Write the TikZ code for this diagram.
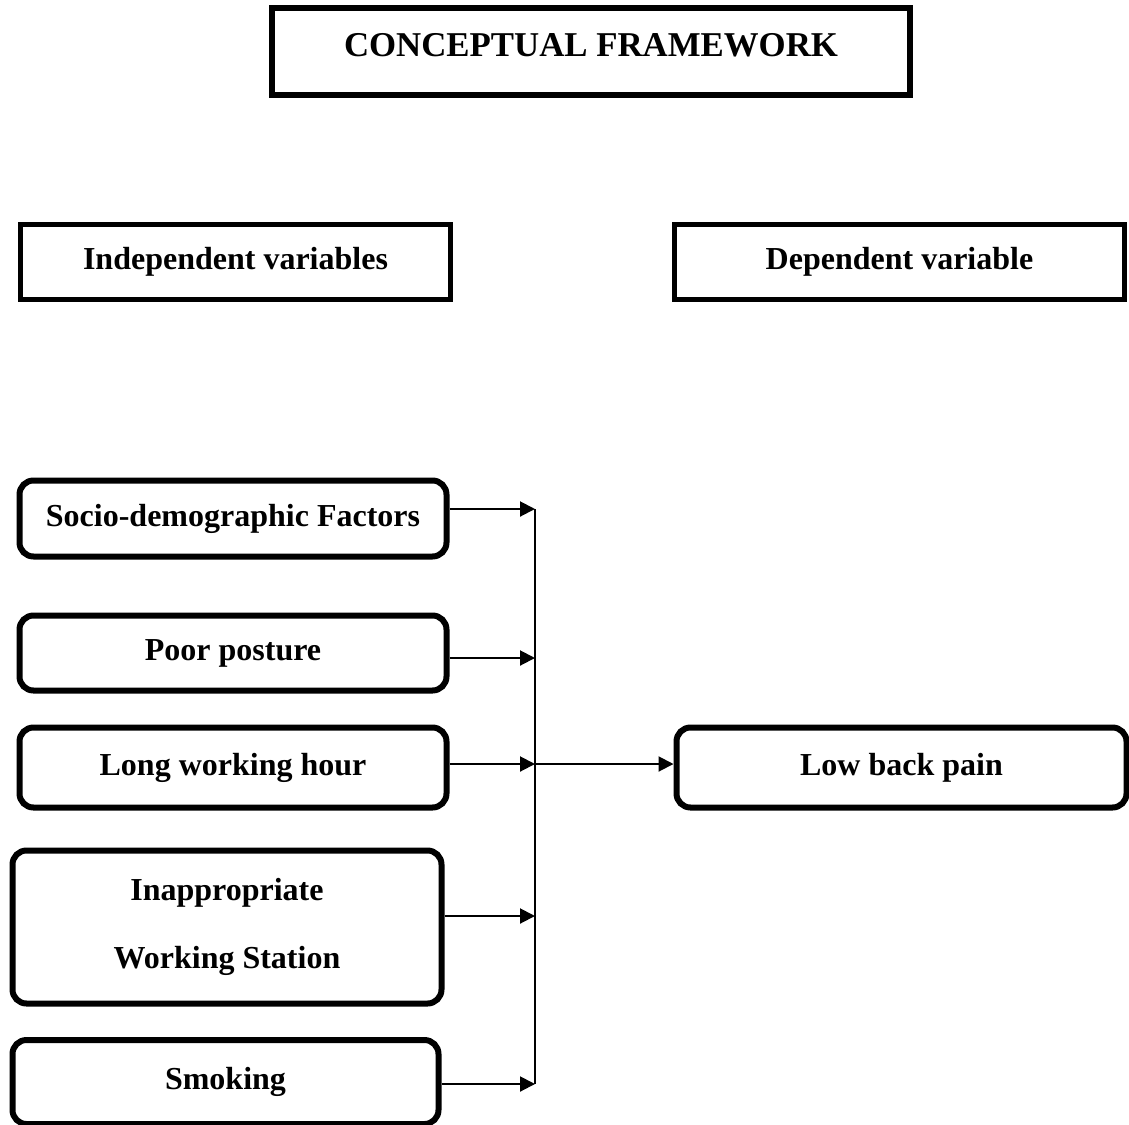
\documentclass[tikz,border=0pt]{standalone}
\usepackage{fontspec}
\setmainfont{Liberation Serif}
\usetikzlibrary{arrows.meta}

\begin{document}
\begin{tikzpicture}[x=0.5pt, y=-0.5pt,
  headbox/.style={draw, line width=3pt, minimum width=319pt, minimum height=43.5pt, text depth=6.5pt, font=\bfseries\fontsize{17.4}{20}\selectfont},
  varbox/.style={draw, line width=2.75pt, minimum height=37.5pt, font=\bfseries\fontsize{16}{19}\selectfont},
  factor/.style={varbox, line width=3pt, rounded corners=7pt, minimum width=213.5pt},
  link/.style={line width=1pt},
  >={Triangle[length=7.5pt, width=7.5pt]}]
\useasboundingbox (0,0) rectangle (1129,1124);
\node[headbox] (title) at (591,51.5) {CONCEPTUAL FRAMEWORK};
\node[varbox, minimum width=215pt] (indep) at (235.5,262) {Independent variables};
\node[varbox, minimum width=225pt] (dep) at (899.5,262) {Dependent variable};
\node[factor, minimum height=38pt] (socio) at (233,518.5) {Socio-demographic Factors};
\node[factor] (posture) at (233,653) {Poor posture};
\node[factor, minimum height=40pt] (hours) at (233,767.5) {Long working hour};
\node[factor, minimum width=214.5pt, minimum height=76.5pt, align=center, font=\bfseries\fontsize{16}{34}\selectfont] (station) at (227,927) {Inappropriate\\Working Station};
\node[factor, minimum width=213pt, minimum height=42pt] (smoking) at (225.5,1082) {Smoking};
\node[factor, minimum width=225pt, minimum height=40pt] (pain) at (901.5,767.5) {Low back pain};
% bus
\coordinate (b1) at (535,509);
\coordinate (b2) at (535,658);
\coordinate (b3) at (535,764);
\coordinate (b4) at (535,916);
\coordinate (b5) at (535,1084);
\draw[link] (b1) -- (b5);
\draw[link, ->] (socio.east |- b1) -- (b1);
\draw[link, ->] (posture.east |- b2) -- (b2);
\draw[link, ->] (hours.east |- b3) -- (b3);
\draw[link, ->] (station.east |- b4) -- (b4);
\draw[link, ->] (smoking.east |- b5) -- (b5);
\draw[link, ->] (b3) -- (pain.west |- b3);
\end{tikzpicture}
\end{document}
